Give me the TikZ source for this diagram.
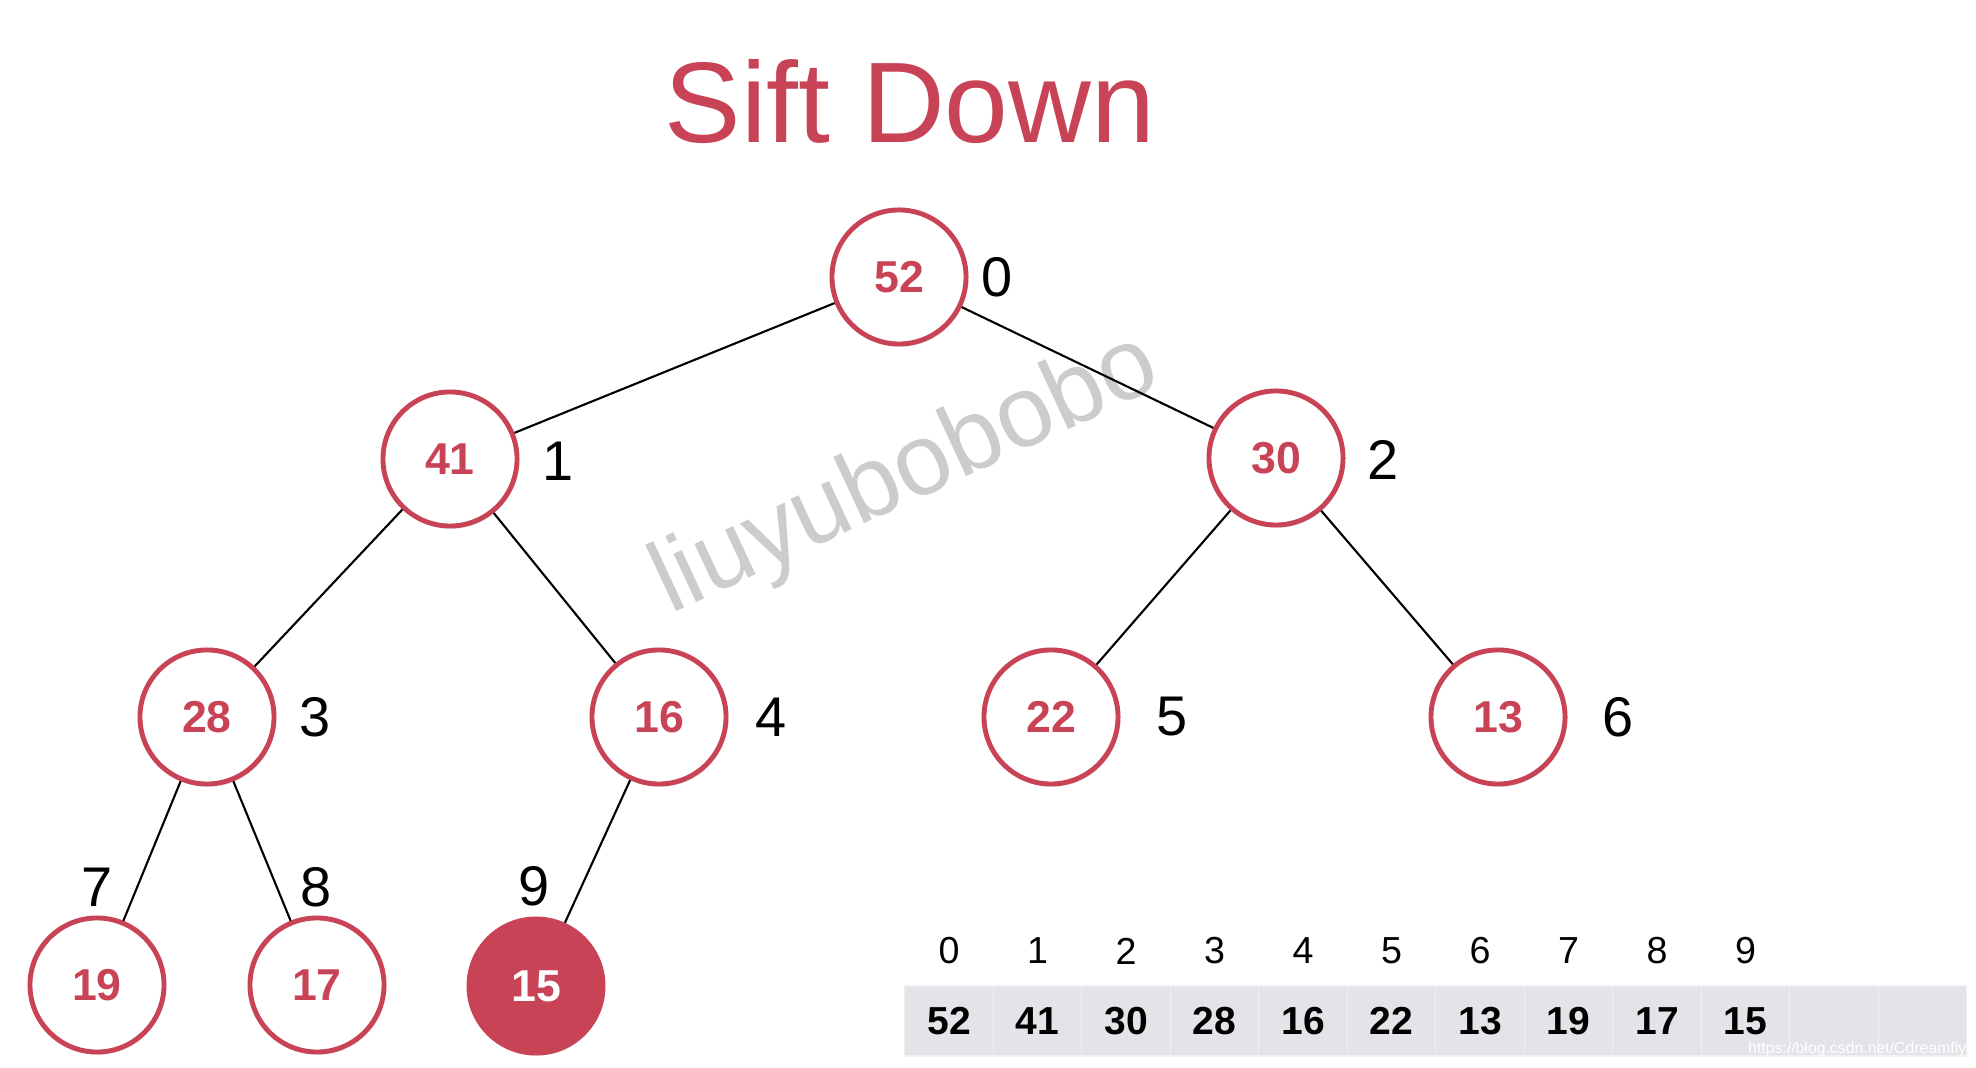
\documentclass[tikz,border=0pt]{standalone}
\usepackage{fontspec}
\setmainfont{Liberation Sans}
\usepackage{tikz}
\usetikzlibrary{shadows}
\definecolor{sdred}{RGB}{201,67,87}
\definecolor{sdmark}{RGB}{204,204,204}
\definecolor{sdcell}{RGB}{227,228,232}
\definecolor{sdsep}{RGB}{240,240,243}
\tikzstyle{heapnode} = [circle, minimum size=1.34cm, inner sep=0pt, draw=sdred, line width=1.4pt, fill=white, text=sdred, font=\fontsize{12.7}{13}\selectfont\bfseries, drop shadow={opacity=0.2, shadow xshift=0.4pt, shadow yshift=-0.8pt}]
\tikzstyle{hotnode} = [heapnode, fill=sdred, text=white]
\tikzstyle{idxlabel} = [inner sep=0pt, font=\fontsize{15.9}{16}\selectfont]
\tikzstyle{link} = [line width=0.6pt]
\tikzstyle{cell} = [rectangle, minimum width=0.885cm, minimum height=0.70cm, inner sep=0pt, fill=sdcell, draw=sdsep, line width=0.3pt, font=\fontsize{11.1}{11}\selectfont\bfseries]
\tikzstyle{cellidx} = [inner sep=0pt, font=\fontsize{10.7}{11}\selectfont]

\begin{document}
\begin{tikzpicture}[x=0.01cm, y=-0.01cm]
\useasboundingbox (0,0) rectangle (1976,1068);

% Title
\node[text=sdred, font=\fontsize{32.6}{33}\selectfont] (title) at (910,102) {Sift Down};

% Watermark
\node[text=sdmark, font=\fontsize{28.7}{29}\selectfont, rotate=25, anchor=base west, inner sep=0pt] (mark) at (670,615) {liuyubobobo};

% Heap
\node[heapnode] (n52) at (899,277) {52};
\node[heapnode] (n41) at (450,459) {41};
\node[heapnode] (n30) at (1276,458) {30};
\node[heapnode] (n28) at (207,717) {28};
\node[heapnode] (n16) at (659,717) {16};
\node[heapnode] (n22) at (1051,717) {22};
\node[heapnode] (n13) at (1498,717) {13};
\node[heapnode] (n19) at (97,985) {19};
\node[heapnode] (n17) at (317,985) {17};
\node[hotnode] (n15) at (536,986) {15};

\draw[link] (n52) -- (n41);
\draw[link] (n52) -- (n30);
\draw[link] (n41) -- (n28);
\draw[link] (n41) -- (n16);
\draw[link] (n30) -- (n22);
\draw[link] (n30) -- (n13);
\draw[link] (n28) -- (n19);
\draw[link] (n28) -- (n17);
\draw[link] (n16) -- (n15);

% Indices
\node[idxlabel] (i0) at (997,277) {0};
\node[idxlabel] (i1) at (558,461) {1};
\node[idxlabel] (i2) at (1383,460) {2};
\node[idxlabel] (i3) at (315,717) {3};
\node[idxlabel] (i4) at (771,717) {4};
\node[idxlabel] (i5) at (1172,717) {5};
\node[idxlabel] (i6) at (1618,717) {6};
\node[idxlabel] (i7) at (97,887) {7};
\node[idxlabel] (i8) at (316,887) {8};
\node[idxlabel] (i9) at (534,886) {9};

% Array
\foreach \v [count=\i from 0] in {52,41,30,28,16,22,13,19,17,15,{},{}}
  \node[cell] (c\i) at (949+88.5*\i,1021) {\v};
\foreach \i in {0,...,9}
  \node[cellidx] (a\i) at (949+88.5*\i,951) {\i};

\node[text=white, font=\fontsize{4.5}{5}\selectfont, anchor=base east, inner sep=0pt] (url) at (1967,1054) {https://blog.csdn.net/Cdreamfly};
\end{tikzpicture}
\end{document}
